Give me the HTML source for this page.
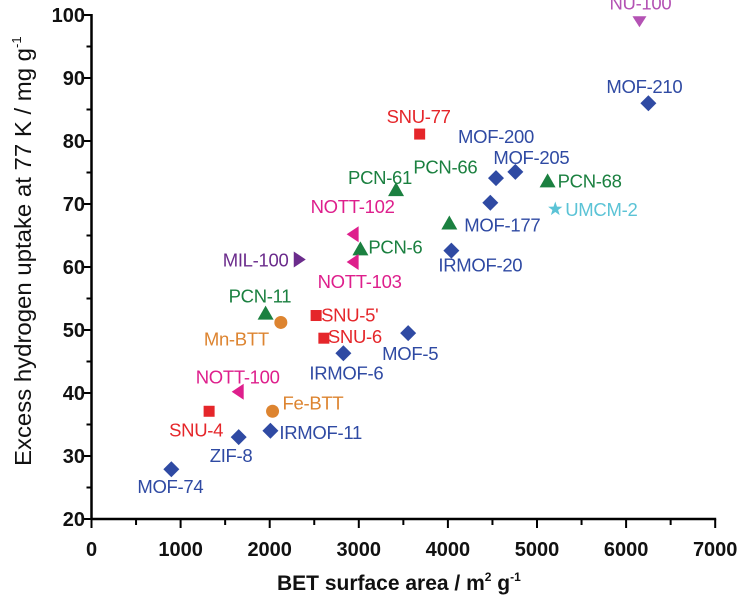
<!DOCTYPE html>
<html><head><meta charset="utf-8"><style>
html,body{margin:0;padding:0;background:#fff;}
svg{display:block;font-family:"Liberation Sans",Arial,sans-serif;}
</style></head><body>
<svg id="chart" width="740" height="597" viewBox="0 0 740 597" xmlns="http://www.w3.org/2000/svg"></svg>
<script>
const names = ["NU-100","MOF-210","SNU-77","MOF-200","MOF-205","PCN-68","UMCM-2","MOF-177","PCN-66","IRMOF-20","PCN-61","NOTT-102","PCN-6","NOTT-103","MIL-100","PCN-11","SNU-5'","Mn-BTT","SNU-6","MOF-5","IRMOF-6","NOTT-100","SNU-4","Fe-BTT","IRMOF-11","ZIF-8","MOF-74"];
const bet = [6150,6250,3683,4540,4757,5119,5205,4476,4016,4039,3418,2942,3018,2942,2326,1954,2521,2125,2608,3554,2827,1652,1320,2032,2008,1652,896];
const uptake = [99.0,86.0,81.1,74.1,75.1,73.6,69.2,70.2,66.9,62.6,72.2,65.2,62.8,60.8,61.2,52.6,52.3,51.2,48.7,49.5,46.3,40.2,37.1,37.1,34.0,33.0,27.9];
const shapes = ["down","diamond","square","diamond","diamond","up","star","diamond","up","diamond","up","left","up","left","right","up","square","circle","square","diamond","diamond","left","square","circle","diamond","diamond","diamond"];
const xTicks = [0,1000,2000,3000,4000,5000,6000,7000];
const yTicks = [20,30,40,50,60,70,80,90,100];

const X0=91.5, XS=89.1/1000, Y0=519, YS=6.3;
function sx(v){return X0+v*XS;}
function sy(v){return Y0-(v-20)*YS;}
const colors={"NU-100":"#b452b4","MOF-210":"#2f4aa3","SNU-77":"#e5262a","MOF-200":"#2f4aa3","MOF-205":"#2f4aa3","PCN-68":"#1b8040","UMCM-2":"#5bc3d6","MOF-177":"#2f4aa3","PCN-66":"#1b8040","IRMOF-20":"#2f4aa3","PCN-61":"#1b8040","NOTT-102":"#de1f8c","PCN-6":"#1b8040","NOTT-103":"#de1f8c","MIL-100":"#6b2c8c","PCN-11":"#1b8040","SNU-5'":"#e5262a","Mn-BTT":"#dd8430","SNU-6":"#e5262a","MOF-5":"#2f4aa3","IRMOF-6":"#2f4aa3","NOTT-100":"#de1f8c","SNU-4":"#e5262a","Fe-BTT":"#dd8430","IRMOF-11":"#2f4aa3","ZIF-8":"#2f4aa3","MOF-74":"#2f4aa3"};
const labelOff={"NU-100":[-30,-12],"MOF-210":[-42,-10],"SNU-77":[-33,-11],"MOF-200":[-38,-35],"MOF-205":[-22,-8],"PCN-68":[10,6],"UMCM-2":[10,7],"MOF-177":[-26,29],"PCN-66":[-36,-50],"IRMOF-20":[-13,21],"PCN-61":[-48,-6],"NOTT-102":[-43,-21],"PCN-6":[8,4],"NOTT-103":[-36,26],"MIL-100":[-76,7],"PCN-11":[-37,-11],"SNU-5'":[5,6],"Mn-BTT":[-77,23],"SNU-6":[4,5],"MOF-5":[-26,27],"IRMOF-6":[-34,26],"NOTT-100":[-43,-8],"SNU-4":[-40,25],"Fe-BTT":[10,-2],"IRMOF-11":[9,8],"ZIF-8":[-29,25],"MOF-74":[-34,24]};

const svg=document.getElementById('chart');
const NS="http://www.w3.org/2000/svg";
function mk(tag,attrs,parent){const e=document.createElementNS(NS,tag);for(const k in attrs)e.setAttribute(k,attrs[k]);(parent||svg).appendChild(e);return e;}

const axes=mk('g',{});


const xl=mk('line',{x1:X0,y1:Y0,x2:sx(7000)+1,y2:Y0,stroke:'#000','stroke-width':2.5},axes);


const yl=mk('line',{x1:X0,y1:Y0+1,x2:X0,y2:sy(100)-1,stroke:'#000','stroke-width':2.5},axes);


for(let v=0;v<=7000;v+=500){
  const major=v%1000===0;
  const t=mk('line',{x1:sx(v),y1:Y0,x2:sx(v),y2:Y0+(major?9:6),stroke:'#000','stroke-width':2},axes);
  
  
}
for(let v=20;v<=100;v+=5){
  const major=v%10===0;
  const t=mk('line',{x1:X0,y1:sy(v),x2:X0-(major?8:5),y2:sy(v),stroke:'#000','stroke-width':2},axes);
  
  
}
xTicks.forEach(v=>{
  const t=mk('text',{x:sx(v),y:556,'text-anchor':'middle','font-size':20,'font-weight':'bold',fill:'#111'},axes);
  t.textContent=String(v);
  
  
});
yTicks.forEach(v=>{
  const t=mk('text',{x:85,y:sy(v)+7,'text-anchor':'end','font-size':20,'font-weight':'bold',fill:'#111'},axes);
  t.textContent=String(v);
  
  
});
const xt=mk('text',{x:277,y:590,'font-size':21,'font-weight':'bold',fill:'#111'});


xt.innerHTML='BET surface area / m<tspan dy="-9" font-size="12">2</tspan><tspan dy="9"> g</tspan><tspan dy="-9" font-size="12">-1</tspan>';
const yt=mk('text',{transform:'translate(31,466) rotate(-90)','font-size':23,fill:'#111'});


yt.innerHTML='<tspan textLength="418" lengthAdjust="spacingAndGlyphs">Excess hydrogen uptake at 77 K / mg g</tspan><tspan dy="-10" font-size="13">-1</tspan>';

function marker(shape,x,y,c,g){
  let e;
  if(shape==='diamond') e=mk('polygon',{points:`${x},${y-8} ${x+8},${y} ${x},${y+8} ${x-8},${y}`,fill:c},g);
  else if(shape==='square') e=mk('rect',{x:x-5.5,y:y-5.5,width:11,height:11,fill:c},g);
  else if(shape==='circle') e=mk('circle',{cx:x,cy:y,r:6.5,fill:c},g);
  else if(shape==='up') e=mk('polygon',{points:`${x},${y-8} ${x+8},${y+6} ${x-8},${y+6}`,fill:c},g);
  else if(shape==='down') e=mk('polygon',{points:`${x-7},${y-5} ${x+7},${y-5} ${x},${y+6}`,fill:c},g);
  else if(shape==='left') e=mk('polygon',{points:`${x-7},${y} ${x+5},${y-8} ${x+5},${y+8}`,fill:c},g);
  else if(shape==='right') e=mk('polygon',{points:`${x+7},${y} ${x-5},${y-8} ${x-5},${y+8}`,fill:c},g);
  else if(shape==='star'){
    let p=[];for(let i=0;i<10;i++){const r=i%2?3:7.5;const a=-Math.PI/2+i*Math.PI/5;p.push((x+r*Math.cos(a)).toFixed(1)+','+(y+r*Math.sin(a)).toFixed(1));}
    e=mk('polygon',{points:p.join(' '),fill:c},g);
  }
  return e;
}
names.forEach((n,i)=>{
  const x=sx(bet[i]),y=sy(uptake[i]),c=colors[n];
  const g=mk('g',{});
  
  
  const m=marker(shapes[i],x,y,c,g);
  
  
  const o=labelOff[n];
  const t=mk('text',{x:x+o[0],y:y+o[1],'font-size':18.5,fill:c,'letter-spacing':'-0.3'},g);
  t.textContent=n;
  
  
});
</script>
</body></html>
